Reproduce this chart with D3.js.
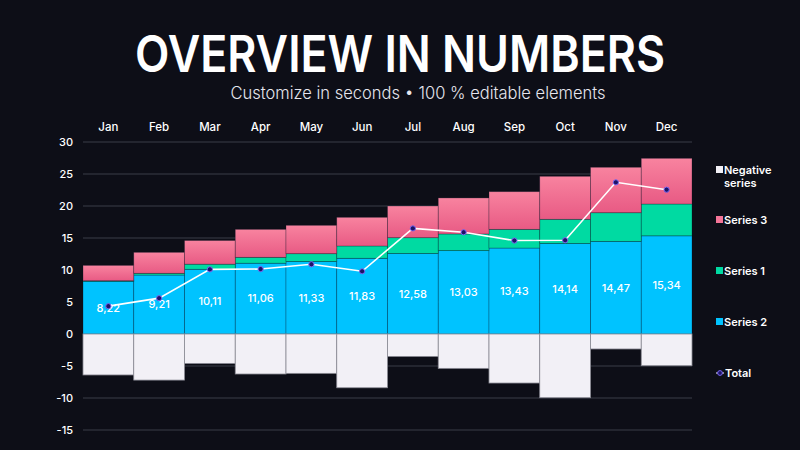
<!DOCTYPE html>
<html>
<head>
<meta charset="utf-8">
<script src="https://cdn.jsdelivr.net/npm/d3@7"></script>
<style>
  html, body { margin: 0; padding: 0; background: #0d0e17; }
  svg { display: block; font-family: Inter, "Noto Sans", sans-serif; }
</style>
</head>
<body>
<div id="chart"></div>
<script>
// Data
const months = ["Jan", "Feb", "Mar", "Apr", "May", "Jun", "Jul", "Aug", "Sep", "Oct", "Nov", "Dec"];
const series2 = [8.22, 9.21, 10.11, 11.06, 11.33, 11.83, 12.58, 13.03, 13.43, 14.14, 14.47, 15.34];
const series1 = [0.1, 0.27, 0.8, 0.92, 1.22, 1.92, 2.47, 2.6, 2.92, 3.78, 4.48, 4.97];
const series3 = [2.4, 3.28, 3.7, 4.37, 4.43, 4.48, 4.95, 5.63, 5.89, 6.72, 7.1, 7.14];
const negative = [-6.4, -7.2, -4.6, -6.25, -6.15, -8.4, -3.5, -5.37, -7.66, -9.95, -2.34, -4.95];
const total = [4.35, 5.6, 10.1, 10.15, 10.9, 9.8, 16.5, 15.9, 14.6, 14.65, 23.7, 22.55];
const yTicks = [-15, -10, -5, 0, 5, 10, 15, 20, 25, 30];

const width = 800, height = 450;
const colors = { s2: "#00c3ff", s1: "#00daa2", s3: "#f47598", neg: "#f2f0f6" };

const svg = d3.select("#chart").append("svg")
  .attr("width", width)
  .attr("height", height)
  .attr("viewBox", `0 0 ${width} ${height}`);

const defs = svg.append("defs");
const grad = defs.append("linearGradient")
  .attr("id", "pinkGrad").attr("x1", 0).attr("y1", 0).attr("x2", 0).attr("y2", 1);
grad.append("stop").attr("offset", "0%").attr("stop-color", "#f8839f");
grad.append("stop").attr("offset", "100%").attr("stop-color", "#e85a84");

svg.append("rect").attr("width", width).attr("height", height).attr("fill", "#0d0e17");

// Titles
svg.append("text")
  .attr("x", 400).attr("y", 72)
  .attr("text-anchor", "middle")
  .attr("fill", "#ffffff")
  .attr("textLength", 530)
  .attr("lengthAdjust", "spacingAndGlyphs")
  .style("font-size", "51px")
  .style("font-weight", 600)
  .text("OVERVIEW IN NUMBERS");

svg.append("text")
  .attr("x", 418).attr("y", 99)
  .attr("text-anchor", "middle")
  .attr("fill", "#e6e6ee")
  .attr("textLength", 375)
  .attr("lengthAdjust", "spacingAndGlyphs")
  .style("font-size", "17px")
  .style("font-weight", 300)
  .text("Customize in seconds • 100 % editable elements");

const x = d3.scaleBand()
  .domain(months)
  .range([83, 692])
  .padding(0);

const y = d3.scaleLinear()
  .domain([-15, 30])
  .range([430, 142]);

// Gridlines
svg.append("g")
  .selectAll("line")
  .data(yTicks)
  .join("line")
  .attr("x1", 83).attr("x2", 692)
  .attr("y1", d => y(d)).attr("y2", d => y(d))
  .attr("stroke", "#3a3c48")
  .attr("stroke-width", 1);

// Y tick labels
svg.append("g")
  .selectAll("text")
  .data(yTicks)
  .join("text")
  .attr("x", 73)
  .attr("y", d => y(d))
  .attr("dy", "0.35em")
  .attr("text-anchor", "end")
  .attr("fill", "#ffffff")
  .style("font-size", "11px")
  .style("font-weight", 500)
  .text(d => d);

// Month labels on top
svg.append("g")
  .selectAll("text")
  .data(months)
  .join("text")
  .attr("x", d => x(d) + x.bandwidth() / 2)
  .attr("y", 130.5)
  .attr("text-anchor", "middle")
  .attr("fill", "#ffffff")
  .style("font-size", "11.5px")
  .style("font-weight", 500)
  .text(d => d);

// Stacked bars
const rows = months.map((m, i) => ({ month: m, s2: series2[i], s1: series1[i], s3: series3[i] }));
const stack = d3.stack().keys(["s2", "s1", "s3"])(rows);
const fills = { s2: colors.s2, s1: colors.s1, s3: "url(#pinkGrad)" };

svg.append("g")
  .selectAll("g")
  .data(stack)
  .join("g")
  .attr("fill", d => fills[d.key])
  .selectAll("rect")
  .data(d => d)
  .join("rect")
  .attr("x", d => x(d.data.month))
  .attr("width", x.bandwidth())
  .attr("y", d => y(d[1]))
  .attr("height", d => y(d[0]) - y(d[1]))
  .attr("stroke", "rgba(10,20,40,0.35)")
  .attr("stroke-width", 0.8);

// Negative series
svg.append("g")
  .selectAll("rect")
  .data(negative)
  .join("rect")
  .attr("x", (d, i) => x(months[i]))
  .attr("width", x.bandwidth())
  .attr("y", y(0))
  .attr("height", d => y(d) - y(0))
  .attr("fill", colors.neg)
  .attr("stroke", "#8a8a94")
  .attr("stroke-width", 0.8);

// Value labels for Series 2
svg.append("g")
  .selectAll("text")
  .data(series2)
  .join("text")
  .attr("x", (d, i) => x(months[i]) + x.bandwidth() / 2)
  .attr("y", d => y(d / 2))
  .attr("dy", "0.35em")
  .attr("text-anchor", "middle")
  .attr("fill", "#ffffff")
  .style("font-size", "11px")
  .style("font-weight", 500)
  .text(d => d3.format(".2f")(d).replace(".", ","));

// Total line
const line = d3.line()
  .x((d, i) => x(months[i]) + x.bandwidth() / 2)
  .y(d => y(d));

svg.append("path")
  .datum(total)
  .attr("d", line)
  .attr("fill", "none")
  .attr("stroke", "#ffffff")
  .attr("stroke-width", 1.6);

svg.append("g")
  .selectAll("circle")
  .data(total)
  .join("circle")
  .attr("cx", (d, i) => x(months[i]) + x.bandwidth() / 2)
  .attr("cy", d => y(d))
  .attr("r", 2.6)
  .attr("fill", "#1c1466")
  .attr("stroke", "#7a66f2")
  .attr("stroke-width", 1);

// Legend
const legend = [
  { label: ["Negative", "series"], color: colors.neg, y: 170 },
  { label: ["Series 3"], color: "#f47598", y: 220 },
  { label: ["Series 1"], color: colors.s1, y: 271 },
  { label: ["Series 2"], color: colors.s2, y: 322 },
];

const lg = svg.append("g").selectAll("g")
  .data(legend)
  .join("g")
  .attr("transform", d => `translate(716,${d.y})`);

lg.append("rect")
  .attr("x", 0).attr("y", -4)
  .attr("width", 7).attr("height", 7)
  .attr("fill", d => d.color);

lg.append("text")
  .attr("fill", "#ffffff")
  .style("font-size", "11px")
  .style("font-weight", 600)
  .selectAll("tspan")
  .data(d => d.label)
  .join("tspan")
  .attr("x", 8)
  .attr("y", (d, i) => i * 13)
  .attr("dy", "0.35em")
  .text(d => d);

const tl = svg.append("g").attr("transform", "translate(716,373)");
tl.append("line")
  .attr("x1", 0).attr("x2", 8)
  .attr("stroke", "#ffffff").attr("stroke-width", 1);
tl.append("circle")
  .attr("cx", 4).attr("r", 2.4)
  .attr("fill", "#1c1466").attr("stroke", "#7a66f2").attr("stroke-width", 1);
tl.append("text")
  .attr("x", 9).attr("dy", "0.35em")
  .attr("fill", "#ffffff")
  .style("font-size", "11px")
  .style("font-weight", 600)
  .text("Total");
</script>
</body>
</html>
